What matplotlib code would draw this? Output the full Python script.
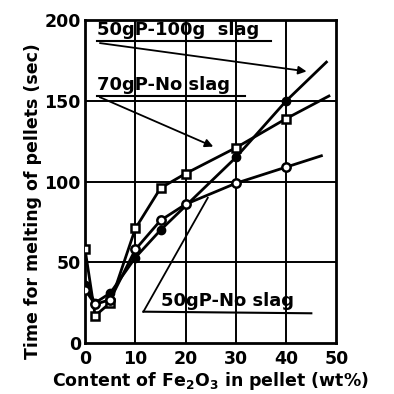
#!/usr/bin/env python3

import matplotlib
matplotlib.use('Agg')
import matplotlib.pyplot as plt

# 50gP - 100g slag (filled circles)
slag_x = [0, 2, 5, 10, 15, 30, 40]
slag_y = [36, 25, 31, 53, 70, 115, 150]
slag_end = (48, 174)

# 70gP - No slag (open squares)
p70_x = [0, 2, 5, 10, 15, 20, 30, 40]
p70_y = [58, 17, 25, 71, 96, 105, 121, 139]
p70_end = (48.5, 153)

# 50gP - No slag (open circles)
p50_x = [0, 2, 5, 10, 15, 20, 30, 40]
p50_y = [33, 24, 27, 58, 76, 86, 99, 109]
p50_end = (47, 116)

x_ticks = [0, 10, 20, 30, 40, 50]
y_ticks = [0, 50, 100, 150, 200]

plt.rcParams['font.family'] = 'DejaVu Sans'
plt.rcParams['font.weight'] = 'bold'

fig = plt.figure(figsize=(3.94, 3.94), dpi=100)
ax = fig.add_axes([0.216, 0.129, 0.638, 0.82])

# grid lines
for gx in x_ticks[1:-1]:
    ax.axvline(gx, color='black', lw=1.4, zorder=1)
for gy in y_ticks[1:-1]:
    ax.axhline(gy, color='black', lw=1.4, zorder=1)

# series
ax.plot(slag_x + [slag_end[0]], slag_y + [slag_end[1]], color='black', lw=2, zorder=3)
ax.plot(slag_x, slag_y, 'o', color='black', ms=6, zorder=4)

ax.plot(p70_x + [p70_end[0]], p70_y + [p70_end[1]], color='black', lw=2, zorder=3)
ax.plot(p70_x, p70_y, 's', mfc='white', mec='black', mew=1.8, ms=6, zorder=4)

ax.plot(p50_x + [p50_end[0]], p50_y + [p50_end[1]], color='black', lw=2, zorder=3)
ax.plot(p50_x, p50_y, 'o', mfc='white', mec='black', mew=1.8, ms=6, zorder=4)

# labels with underline and leader arrows
ax.text(2.4, 188.5, '50gP-100g  slag', fontsize=13, fontweight='bold', va='bottom', zorder=5)
ax.plot([2.4, 37], [187, 187], color='black', lw=1.5, zorder=5)
ax.annotate('', xy=(44.6, 168), xytext=(2.4, 186),
            arrowprops=dict(arrowstyle='-|>', color='black', lw=1.3, mutation_scale=12))

ax.text(2.4, 154.5, '70gP-No slag', fontsize=13, fontweight='bold', va='bottom', zorder=5)
ax.plot([2.4, 31.8], [153, 153], color='black', lw=1.5, zorder=5)
ax.annotate('', xy=(26, 121), xytext=(2.4, 153),
            arrowprops=dict(arrowstyle='-|>', color='black', lw=1.3, mutation_scale=12))

ax.text(15, 20.5, '50gP-No slag', fontsize=13, fontweight='bold', va='bottom', zorder=5)
ax.plot([11.6, 45], [19.5, 18.5], color='black', lw=1.5, zorder=5)
ax.plot([11.6, 24.4], [19.5, 90], color='black', lw=1.3, zorder=5)

ax.set_xlim(0, 50)
ax.set_ylim(0, 200)
ax.set_xticks(x_ticks)
ax.set_yticks(y_ticks)
ax.tick_params(length=0, labelsize=12.5)
ax.tick_params(axis='x', pad=5)
ax.tick_params(axis='y', pad=3)
for lbl in ax.get_xticklabels() + ax.get_yticklabels():
    lbl.set_fontweight('bold')
for s in ax.spines.values():
    s.set_linewidth(2)

ax.set_xlabel(r'Content of Fe$_2$O$_3$ in pellet (wt%)', fontsize=12.5, fontweight='bold', labelpad=1)
ax.set_ylabel('Time for melting of pellets (sec)', fontsize=12.5, fontweight='bold')
ax.yaxis.set_label_coords(-0.17, 0.44)

plt.savefig('out.png', dpi=100)
